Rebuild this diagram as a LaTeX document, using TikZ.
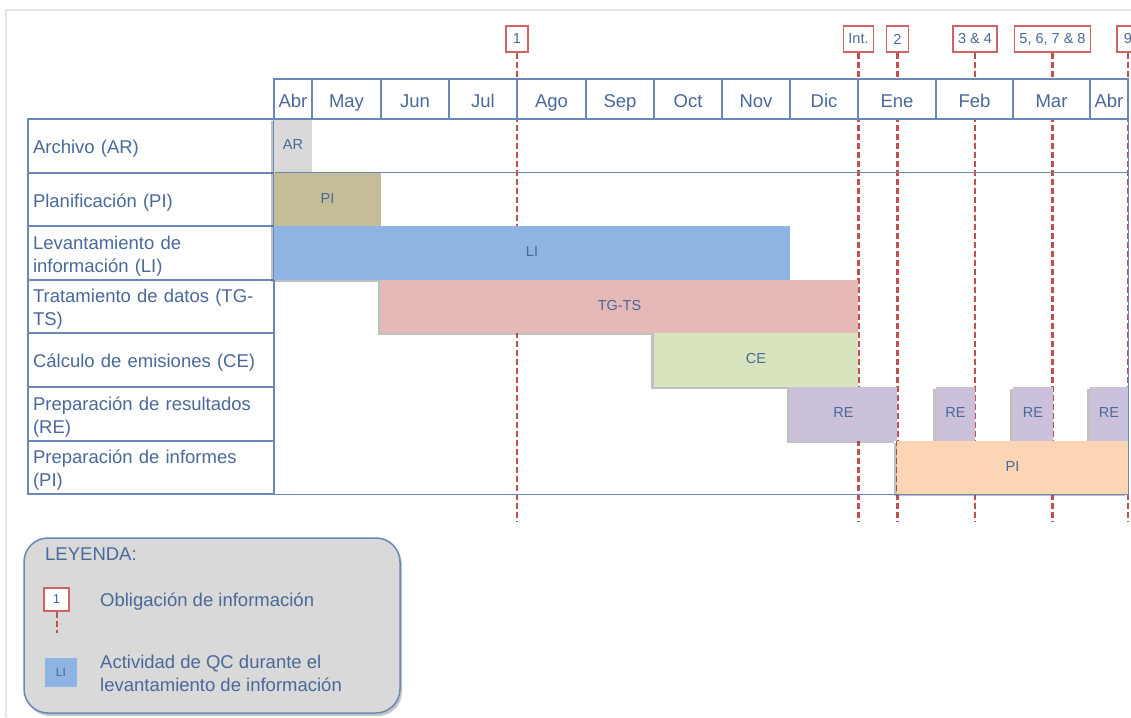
\documentclass[tikz,border=0pt]{standalone}
\usepackage{fontspec}
\setmainfont{Liberation Sans}
\usetikzlibrary{shadows}
\definecolor{txtblue}{HTML}{4A6899}
\definecolor{gridblue}{HTML}{6A87B5}
\definecolor{redline}{HTML}{C0504D}
\definecolor{redbox}{HTML}{D06464}
\definecolor{argray}{HTML}{D9D9D9}
\definecolor{pitan}{HTML}{C4BD97}
\definecolor{liblue}{HTML}{8EB4E3}
\definecolor{tgpink}{HTML}{E6B9B8}
\definecolor{cegreen}{HTML}{D7E4BD}
\definecolor{relav}{HTML}{CCC1DA}
\definecolor{pipeach}{HTML}{FCD5B5}
\definecolor{leggray}{HTML}{D9D9D9}
\tikzset{
  gridline/.style={draw=gridblue, line width=1.2pt},
  month/.style={gridline, fill=white, minimum height=40pt, inner sep=0pt, text height=20pt, text depth=4pt, text=txtblue, font=\fontsize{18.5}{22}\selectfont},
  rowcell/.style={gridline, minimum width=246pt, inner sep=0pt},
  rowtext/.style={text width=236pt, inner sep=0pt, align=left, text=txtblue, font=\fontsize{18.5}{23}\selectfont},
  actbar/.style={inner sep=0pt, text height=10.5pt, text depth=3pt, text=txtblue, font=\fontsize{14.5}{17}\selectfont,
    drop shadow={shadow xshift=-3pt, shadow yshift=-1.5pt, opacity=.35, fill=black!70}},
  obligbox/.style={draw=redbox, fill=white, line width=1.2pt, minimum height=26pt, minimum width=22pt, inner xsep=5pt, inner ysep=0pt, text=txtblue, font=\fontsize{14.5}{17}\selectfont},
  deadline/.style={draw=redline, line width=2.8pt, dash pattern=on 6pt off 3pt},
  legtxt/.style={inner sep=0pt, text=txtblue, font=\fontsize{18.5}{23}\selectfont},
}
\begin{document}
\begin{tikzpicture}[x=1pt, y=-1pt]
\useasboundingbox (0,0) rectangle (1131,717);
\draw[gray!20, line width=1.5pt] (6,717) |- (1131,10);
% obligaciones de informacion
\coordinate (bot) at (0,521);
\foreach \x/\lab [count=\i] in {517/1, 858.5/Int., 897.5/2, 975/{3 \& 4}, 1052.5/{5, 6, 7 \& 8}, 1128/9}{
  \node[obligbox] (ob\i) at (\x,39) {\lab};
  \draw[deadline] (ob\i) -- (ob\i |- bot);
}
% meses
\foreach \a/\b/\m [count=\i] in {274/312/Abr, 312/381/May, 381/449/Jun, 449/517/Jul, 517/586/Ago, 586/654/Sep,
    654/722/Oct, 722/790/Nov, 790/858/Dic, 858/936/Ene, 936/1013/Feb, 1013/1090/Mar, 1090/1128/Abr}
  \node[month, minimum width={(\b-\a)*1pt}] (m\i) at ({(\a+\b)/2},99) {\m};
% actividades
\foreach \t/\u/\txt [count=\i] in {119/173/{Archivo (AR)}, 173/226/{Planificación (PI)},
    226/280/{Levantamiento de\\información (LI)}, 280/333/{Tratamiento de datos (TG-\\TS)},
    333/387/{Cálculo de emisiones (CE)}, 387/441/{Preparación de resultados\\(RE)},
    441/494/{Preparación de informes\\(PI)}}{
  \node[rowcell, minimum height={(\u-\t)*1pt}] (r\i) at (151,{(\t+\u)/2}) {};
  \node[rowtext, yshift=-3pt] (t\i) at (r\i) {\txt};
}
\foreach \a/\b/\t/\u/\c/\lab [count=\i] in {274/312/119/173/argray/AR, 274/381/173/226/pitan/PI,
    274/790/226/280/liblue/LI, 381/858/280/333/tgpink/TG-TS, 654/858/333/387/cegreen/CE,
    790/897/387/441/relav/RE, 936/975/387/441/relav/RE, 1013/1053/387/441/relav/RE,
    1090/1128/387/441/relav/RE, 897/1128/441/494/pipeach/PI}
  \node[actbar, fill=\c, minimum width={(\b-\a)*1pt}, minimum height={(\u-\t)*1pt}] (b\i) at ({(\a+\b)/2},{(\t+\u)/2}) {\lab};
\draw[gridline] (m1.south west) rectangle (m13.south east |- r7.south);
\draw[gridline] (r2.north east) -- (r2.north east -| m13.east);
% leyenda
\node[draw=gridblue, line width=1.5pt, fill=leggray, rounded corners=24pt, minimum width=376pt, minimum height=175pt,
  drop shadow={shadow xshift=2pt, shadow yshift=-3pt, opacity=.45}] (legend) at (212,625.5) {};
\node[legtxt, anchor=west] (leytit) at (45,554) {LEYENDA:};
\node[obligbox, minimum width=25pt, minimum height=23pt, font=\fontsize{13}{15}\selectfont] (keyob) at (56.5,599.5) {1};
\coordinate (keyend) at (56.5,633);
\draw[deadline, line width=2pt] (keyob) -- (keyend);
\node[legtxt, anchor=west] (keyobtxt) at (100,602) {Obligación de información};
\node[fill=liblue, minimum width=32pt, minimum height=29pt, inner sep=0pt, text=txtblue, font=\fontsize{12}{14}\selectfont] (keyli) at (61,672.5) {LI};
\node[legtxt, anchor=west, align=left] (keylitxt) at (100,673) {Actividad de QC durante el\\levantamiento de información};
\end{tikzpicture}
\end{document}
